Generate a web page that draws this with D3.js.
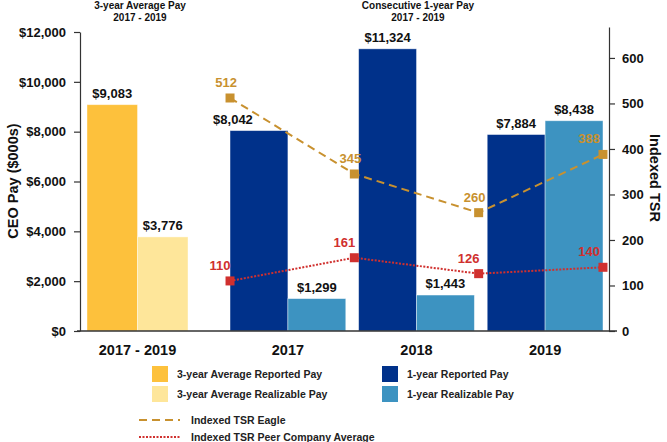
<!DOCTYPE html>
<html>
<head>
<meta charset="utf-8">
<script src="https://cdn.jsdelivr.net/npm/d3@7"></script>
<style>
  html, body { margin: 0; padding: 0; background: #fff; }
  svg { display: block; font-family: "Liberation Sans", Arial, Helvetica, sans-serif; font-weight: bold; }
</style>
</head>
<body>
<svg id="chart" width="667" height="442"></svg>
<script>
// ---------------- DATA ----------------
const threeYearCategories = ["2017 - 2019"];
const threeYearReported = [9083];
const threeYearRealizable = [3776];

const oneYearCategories = ["2017", "2018", "2019"];
const oneYearReported = [8042, 11324, 7884];
const oneYearRealizable = [1299, 1443, 8438];

const tsrCategories = ["P1", "P2", "P3", "P4"];
const tsrEagle = [512, 345, 260, 388];
const tsrPeer = [110, 161, 126, 140];

const payTicks = [0, 2000, 4000, 6000, 8000, 10000, 12000];
const tsrTicks = [0, 100, 200, 300, 400, 500, 600];

const sectionTitles = [
  ["3-year Average Pay", "2017 - 2019"],
  ["Consecutive 1-year Pay", "2017 - 2019"]
];

const legendBars = [
  "3-year Average Reported Pay", "3-year Average Realizable Pay",
  "1-year Reported Pay", "1-year Realizable Pay"
];
const legendLines = ["Indexed TSR Eagle", "Indexed TSR Peer Company Average"];

// ---------------- STYLE ----------------
const C = {
  yellow: "#FDC13C",
  lightYellow: "#FEE69A",
  navy: "#00318A",
  blue: "#3D93C1",
  gold: "#C8912F",
  red: "#D0302E",
  text: "#111"
};

const svg = d3.select("#chart");

const plotBottom = 331;
const yPay = d3.scaleLinear().domain([0, 12000]).range([plotBottom, 32]);
const yTsr = d3.scaleLinear().domain([0, 668]).range([plotBottom, 27]);

const xLeftAxis = 80, xRightAxis = 609;

const x3 = d3.scaleBand().domain(threeYearCategories).range([87, 188]).padding(0);
const x1 = d3.scaleBand().domain(oneYearCategories).range([223.6, 609.4])
  .paddingInner(0.1).paddingOuter(0.05);
const sub3 = d3.scaleBand().domain(["rep", "real"]).range([0, x3.bandwidth()]);
const sub1 = d3.scaleBand().domain(["rep", "real"]).range([0, x1.bandwidth()]);

const xTsr = d3.scalePoint().domain(tsrCategories)
  .range([x1(oneYearCategories[0]), x1(oneYearCategories[oneYearCategories.length - 1]) + x1.bandwidth()]);

// ---------------- BARS ----------------
const bars = [];
threeYearCategories.forEach((c, i) => {
  bars.push({x: x3(c) + sub3("rep"), w: sub3.bandwidth(), v: threeYearReported[i], color: C.yellow});
  bars.push({x: x3(c) + sub3("real"), w: sub3.bandwidth(), v: threeYearRealizable[i], color: C.lightYellow});
});
oneYearCategories.forEach((c, i) => {
  bars.push({x: x1(c) + sub1("rep"), w: sub1.bandwidth(), v: oneYearReported[i], color: C.navy});
  bars.push({x: x1(c) + sub1("real"), w: sub1.bandwidth(), v: oneYearRealizable[i], color: C.blue});
});

svg.append("g").selectAll("rect").data(bars).join("rect")
  .attr("x", d => d.x).attr("width", d => d.w)
  .attr("y", d => yPay(d.v)).attr("height", d => plotBottom - yPay(d.v))
  .attr("fill", d => d.color)
  .attr("stroke", "#ffffff").attr("stroke-opacity", 0.5).attr("stroke-width", 0.8);

// ---------------- LINES ----------------
const eaglePts = tsrEagle.map((v, i) => [xTsr(tsrCategories[i]), yTsr(v), v]);
const peerPts = tsrPeer.map((v, i) => [xTsr(tsrCategories[i]), yTsr(v), v]);
const line = d3.line();

svg.append("path").datum(eaglePts).attr("d", line)
  .attr("fill", "none").attr("stroke", C.gold).attr("stroke-width", 2)
  .attr("stroke-dasharray", "8,5");
svg.append("path").datum(peerPts).attr("d", line)
  .attr("fill", "none").attr("stroke", C.red).attr("stroke-width", 2)
  .attr("stroke-dasharray", "2,1.5");

const ms = 9;
svg.append("g").selectAll("rect").data(eaglePts).join("rect")
  .attr("x", d => d[0] - ms / 2).attr("y", d => d[1] - ms / 2)
  .attr("width", ms).attr("height", ms).attr("fill", C.gold);
svg.append("g").selectAll("rect").data(peerPts).join("rect")
  .attr("x", d => d[0] - ms / 2).attr("y", d => d[1] - ms / 2)
  .attr("width", ms).attr("height", ms).attr("fill", C.red);

function tsrLabels(pts, color, dx) {
  svg.append("g").selectAll("text").data(pts).join("text")
    .attr("font-size", 13).attr("fill", color).attr("text-anchor", "middle")
    .attr("y", d => d[1] - 11)
    .text(d => d[2])
    .attr("x", function (d) {
      const w = this.getComputedTextLength();
      let cx = d[0] + dx;
      if (cx + w / 2 > xRightAxis - 9) cx = xRightAxis - 9 - w / 2;
      return cx;
    });
}
tsrLabels(eaglePts, C.gold, -4);
tsrLabels(peerPts, C.red, -10);

// ---------------- BAR LABELS (avoid overlapping TSR lines) ----------------
function segHitsRect(p, q, r) {
  const n = Math.ceil(Math.hypot(q[0] - p[0], q[1] - p[1]) * 2);
  for (let k = 0; k <= n; k++) {
    const t = k / n;
    const x = p[0] + (q[0] - p[0]) * t, y = p[1] + (q[1] - p[1]) * t;
    if (x >= r.x0 && x <= r.x1 && y >= r.y0 && y <= r.y1) return true;
  }
  return false;
}
function lineHits(pts, r) {
  for (let i = 0; i < pts.length - 1; i++) if (segHitsRect(pts[i], pts[i + 1], r)) return true;
  return false;
}
const fmtPay = v => "$" + d3.format(",")(v);
svg.append("g").selectAll("text").data(bars).join("text")
  .attr("font-size", 13).attr("fill", C.text).attr("text-anchor", "middle")
  .attr("y", d => yPay(d.v) - 7)
  .text(d => fmtPay(d.v))
  .attr("x", function (d) {
    const w = this.getComputedTextLength();
    const base = yPay(d.v) - 7;
    let cx = d.x + d.w / 2;
    for (let s = 0; s < 60; s++) {
      const r = {x0: cx - w / 2 - 1, x1: cx + w / 2 + 1, y0: base - 11, y1: base + 2};
      if (!lineHits(eaglePts, r) && !lineHits(peerPts, r)) break;
      cx -= 1;
    }
    return cx;
  });

// ---------------- AXES ----------------
const axisColor = "#333";
const gl = svg.append("g").attr("transform", `translate(${xLeftAxis},0)`)
  .call(d3.axisLeft(yPay).tickValues(payTicks).tickSize(6).tickSizeOuter(0).tickPadding(8)
    .tickFormat(d => fmtPay(d)));
gl.selectAll("text").attr("font-size", 13).attr("font-family", "Liberation Sans, Arial, sans-serif")
  .attr("font-weight", "bold").attr("fill", C.text);
gl.selectAll("line, path").attr("stroke", axisColor).attr("stroke-width", 1.2);

const gr = svg.append("g").attr("transform", `translate(${xRightAxis},0)`)
  .call(d3.axisRight(yTsr).tickValues(tsrTicks).tickSize(6).tickSizeOuter(0).tickPadding(7));
gr.selectAll("text").attr("font-size", 13).attr("font-family", "Liberation Sans, Arial, sans-serif")
  .attr("font-weight", "bold").attr("fill", C.text);
gr.selectAll("line, path").attr("stroke", axisColor).attr("stroke-width", 1.2);

svg.append("line").attr("x1", xLeftAxis - 3).attr("x2", xRightAxis + 8)
  .attr("y1", plotBottom).attr("y2", plotBottom)
  .attr("stroke", axisColor).attr("stroke-width", 1.4);

// category labels
const catLabels = threeYearCategories.map(c => ({t: c, x: x3(c) + x3.bandwidth() / 2}))
  .concat(oneYearCategories.map(c => ({t: c, x: x1(c) + x1.bandwidth() / 2})));
svg.append("g").selectAll("text").data(catLabels).join("text")
  .attr("x", d => d.x).attr("y", 355).attr("text-anchor", "middle")
  .attr("font-size", 14.5).attr("fill", C.text).text(d => d.t);

// axis titles
svg.append("text").attr("transform", "translate(18,181) rotate(-90)")
  .attr("text-anchor", "middle").attr("font-size", 14.5).attr("fill", C.text)
  .text("CEO Pay ($000s)");
svg.append("text").attr("transform", "translate(650,178) rotate(90)")
  .attr("text-anchor", "middle").attr("font-size", 14.5).attr("fill", C.text)
  .text("Indexed TSR");

// section titles
const titleX = [140, 418];
sectionTitles.forEach((lines, i) => {
  lines.forEach((t, j) => {
    svg.append("text").attr("x", titleX[i]).attr("y", 9 + j * 11.5)
      .attr("text-anchor", "middle").attr("font-size", 10).attr("fill", C.text).text(t);
  });
});

// ---------------- LEGEND ----------------
const legendColors = [C.yellow, C.lightYellow, C.navy, C.blue];
const lg = svg.append("g").attr("font-size", 10.5).attr("fill", "#222");
legendBars.forEach((t, i) => {
  const col = Math.floor(i / 2), row = i % 2;
  const lx = col === 0 ? 152 : 382;
  const ly = 366 + row * 20;
  lg.append("rect").attr("x", lx).attr("y", ly).attr("width", 16).attr("height", 16)
    .attr("fill", legendColors[i]);
  lg.append("text").attr("x", lx + 25).attr("y", ly + 12).text(t);
});
const lineStyles = [
  {color: C.gold, dash: "8,5"},
  {color: C.red, dash: "2,1.5"}
];
legendLines.forEach((t, i) => {
  const ly = 420 + i * 17;
  lg.append("line").attr("x1", 139).attr("x2", 180).attr("y1", ly).attr("y2", ly)
    .attr("stroke", lineStyles[i].color).attr("stroke-width", 2)
    .attr("stroke-dasharray", lineStyles[i].dash);
  lg.append("text").attr("x", 191).attr("y", ly + 4).text(t);
});
</script>
</body>
</html>
